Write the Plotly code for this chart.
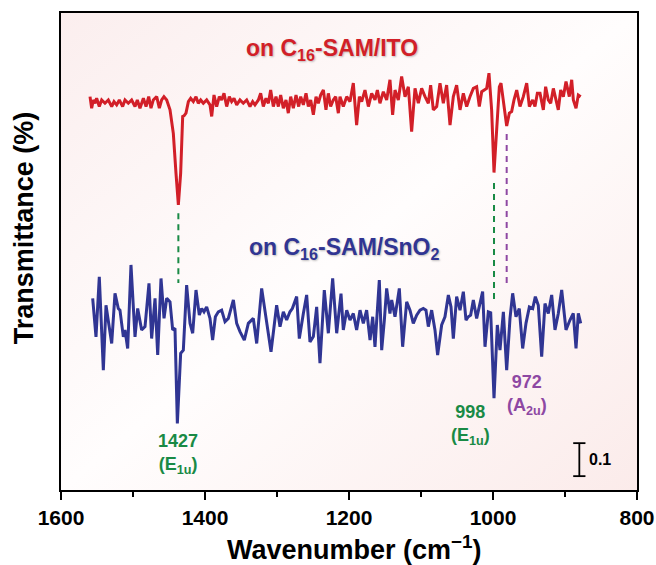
import base64
import plotly.graph_objects as go

# ---------------- data ----------------
# red: on C16-SAM/ITO  (transmittance, relative to its own baseline)
ito_wn = [1559.7, 1557.4, 1555.1, 1552.8, 1550.5, 1546.8, 1543.5, 1538.9, 1534.3, 1529.6,
          1526.4, 1522.7, 1519.0, 1514.4, 1511.1, 1506.5, 1501.9, 1497.2, 1494.0, 1490.3,
          1485.6, 1481.9, 1478.2, 1475.0, 1471.8, 1467.1, 1463.4, 1460.2, 1457.0, 1453.2,
          1448.6, 1444.0, 1440.3, 1437.0, 1433.8, 1431.0, 1429.2, 1426.4, 1423.1, 1419.9,
          1416.2, 1412.5, 1409.3, 1406.0, 1402.3, 1397.7, 1393.1, 1390.7, 1387.5, 1383.8,
          1380.1, 1376.9, 1373.6, 1369.9, 1366.2, 1363.0, 1359.7, 1356.0, 1351.4, 1346.8,
          1342.1, 1337.5, 1333.8, 1330.6, 1325.9, 1322.7, 1319.0, 1315.3, 1312.0, 1308.8,
          1305.1, 1301.4, 1298.1, 1294.9, 1291.2, 1287.5, 1284.3, 1281.0, 1277.3, 1273.6,
          1269.9, 1267.1, 1263.4, 1259.7, 1256.5, 1253.2, 1249.5, 1245.8, 1242.6, 1239.4,
          1235.6, 1232.0, 1228.7, 1225.5, 1221.8, 1218.5, 1214.8, 1212.5, 1207.9, 1203.2,
          1198.6, 1194.0, 1189.4, 1185.6, 1182.4, 1177.8, 1173.1, 1168.5, 1163.9, 1160.6,
          1157.0, 1152.3, 1147.7, 1143.1, 1139.4, 1136.1, 1131.5, 1126.9, 1122.2, 1117.6,
          1113.0, 1108.3, 1103.7, 1099.1, 1094.4, 1089.8, 1086.6, 1082.9, 1078.2, 1073.6,
          1069.0, 1064.4, 1059.7, 1055.1, 1050.5, 1045.8, 1041.2, 1036.6, 1032.0, 1027.3,
          1022.7, 1019.0, 1015.7, 1011.1, 1008.8, 1005.6, 1001.9, 998.6, 994.9, 991.2,
          988.9, 985.6, 981.0, 977.3, 974.1, 970.8, 967.1, 962.5, 957.9, 953.2,
          949.5, 944.9, 941.7, 938.4, 934.7, 930.1, 926.9, 923.2, 919.9, 916.2,
          912.5, 909.3, 906.0, 902.3, 898.6, 894.0, 890.7, 888.4, 884.7, 881.5,
          878.2]
ito_t = [0.015, -0.020, 0.005, -0.005, 0.010, -0.015, 0.005, -0.005, 0.005, -0.015,
         0.000, -0.010, 0.005, -0.015, 0.005, -0.005, 0.005, -0.015, 0.005, -0.020,
         0.010, -0.015, 0.015, -0.020, 0.005, 0.015, -0.020, 0.005, 0.015, 0.005,
         -0.025, -0.096, -0.217, -0.313, -0.217, -0.045, -0.043, -0.035, 0.000, 0.010,
         0.000, 0.015, -0.005, 0.005, -0.005, 0.005, -0.010, -0.045, 0.020, -0.015,
         0.015, 0.005, 0.025, -0.015, 0.015, 0.000, 0.010, -0.010, 0.005, -0.005,
         0.005, -0.015, 0.000, -0.010, 0.005, 0.025, -0.015, 0.010, -0.005, 0.035,
         -0.015, 0.015, -0.015, 0.020, -0.020, 0.005, -0.035, 0.015, -0.020, 0.020,
         -0.015, 0.015, -0.010, 0.025, -0.015, 0.005, -0.040, 0.015, -0.005, 0.020,
         0.035, -0.025, 0.025, -0.015, 0.005, 0.015, -0.035, 0.015, -0.015, 0.015,
         0.000, 0.056, -0.071, 0.015, 0.000, 0.035, -0.015, 0.025, 0.005, 0.035,
         -0.005, 0.030, 0.005, 0.066, -0.040, 0.035, 0.005, 0.076, 0.015, 0.045,
         -0.091, 0.040, -0.005, 0.040, 0.015, -0.005, 0.050, -0.025, -0.015, 0.056,
         -0.005, 0.050, -0.071, 0.015, 0.050, -0.025, 0.025, -0.015, 0.015, 0.040,
         0.045, -0.015, 0.030, 0.035, 0.040, 0.086, -0.025, -0.215, -0.076, 0.045,
         0.056, 0.005, -0.074, -0.035, -0.030, 0.005, 0.035, -0.015, 0.015, 0.056,
         -0.015, 0.005, -0.015, 0.025, 0.025, -0.025, 0.045, 0.005, -0.005, 0.040,
         0.005, -0.025, 0.035, 0.015, 0.061, 0.015, 0.066, 0.005, -0.020, 0.020,
         0.015]

# blue: on C16-SAM/SnO2
sno2_wn = [1556.0, 1551.4, 1546.8, 1541.2, 1537.5, 1529.6, 1525.0, 1520.4, 1518.1, 1513.4,
           1511.1, 1507.4, 1502.8, 1497.2, 1493.5, 1488.0, 1483.3, 1477.8, 1474.1, 1469.4,
           1465.7, 1461.1, 1456.9, 1453.2, 1448.6, 1444.9, 1441.7, 1438.4, 1433.8, 1430.1,
           1425.5, 1420.8, 1417.1, 1412.5, 1407.9, 1404.6, 1401.4, 1397.7, 1393.1, 1389.4,
           1385.6, 1381.5, 1376.9, 1372.2, 1367.6, 1360.6, 1356.0, 1351.4, 1345.4, 1339.8,
           1332.9, 1328.2, 1321.3, 1315.3, 1308.3, 1300.5, 1295.8, 1291.2, 1286.6, 1282.0,
           1278.7, 1272.7, 1269.0, 1263.4, 1258.8, 1254.2, 1249.5, 1244.9, 1240.3, 1234.3,
           1228.7, 1222.7, 1217.1, 1211.1, 1207.9, 1203.2, 1198.6, 1194.0, 1189.4, 1184.7,
           1180.1, 1175.5, 1170.8, 1167.1, 1163.9, 1157.9, 1154.6, 1150.9, 1147.7, 1143.1,
           1140.7, 1136.1, 1130.1, 1125.5, 1119.9, 1115.3, 1110.7, 1106.0, 1101.4, 1096.8,
           1093.1, 1089.8, 1085.2, 1080.6, 1076.9, 1071.3, 1066.7, 1062.0, 1058.3, 1055.1,
           1050.5, 1045.8, 1041.2, 1037.5, 1034.3, 1031.0, 1027.3, 1022.7, 1018.1, 1014.4,
           1011.1, 1006.5, 1003.2, 998.6, 994.0, 990.3, 985.6, 981.0, 976.4, 972.7,
           968.1, 963.5, 958.8, 954.2, 949.5, 944.9, 941.2, 937.1, 932.4, 927.8,
           923.2, 918.5, 913.9, 909.3, 904.6, 898.6, 893.1, 888.5, 884.7, 881.5,
           878.2]
sno2_t = [0.061, -0.056, 0.126, -0.157, 0.040, -0.076, 0.076, 0.030, 0.025, -0.056,
          -0.035, -0.091, 0.162, -0.056, 0.030, -0.035, -0.025, 0.106, -0.061, 0.061,
          -0.111, 0.121, 0.000, 0.061, 0.050, -0.035, -0.030, -0.318, -0.106, -0.096,
          0.101, -0.015, -0.045, 0.086, 0.010, 0.030, 0.020, 0.035, 0.000, -0.066,
          0.005, 0.020, 0.025, -0.010, 0.000, 0.056, -0.015, -0.040, -0.066, -0.015,
          0.000, -0.076, 0.091, 0.005, -0.101, 0.040, -0.025, 0.020, -0.005, 0.020,
          0.030, 0.066, -0.061, 0.015, 0.071, -0.071, -0.055, 0.035, -0.136, 0.086,
          -0.045, 0.121, -0.045, 0.075, -0.035, 0.025, -0.005, 0.015, -0.035, 0.025,
          -0.015, 0.025, -0.066, 0.005, -0.086, 0.116, -0.096, -0.005, 0.091, 0.015,
          0.056, 0.005, 0.091, -0.086, 0.050, 0.025, -0.015, 0.010, 0.025, 0.030,
          0.025, -0.025, 0.025, -0.035, -0.111, -0.020, 0.005, 0.071, 0.035, -0.061,
          0.066, 0.025, 0.081, -0.005, 0.005, 0.010, 0.056, 0.000, 0.040, 0.081,
          -0.086, 0.020, 0.017, -0.242, -0.020, -0.096, 0.020, -0.157, 0.000, 0.076,
          0.005, 0.030, -0.091, -0.015, 0.035, 0.030, 0.066, 0.040, -0.116, 0.045,
          0.015, 0.071, -0.035, 0.015, 0.086, -0.035, -0.005, 0.015, -0.091, 0.015,
          -0.015]

# stacking offsets of the two spectra
ito_offset = 1.177
sno2_offset = 0.520

# band assignments: drawn position, label, mode
peak_pos = [1437.0, 998.6, 981.0]
peak_wn_labels = ["1427", "998", "972"]
peak_modes = ["E<sub>1u</sub>", "E<sub>1u</sub>", "A<sub>2u</sub>"]
scale_bar_value = 0.1

# ---------------- styling ----------------
RED = "#d21f28"
BLUE = "#303593"
GREEN = "#198a45"
PURPLE = "#8e48a3"
FONT = "Liberation Sans, Arial, Helvetica, sans-serif"

fig = go.Figure()
fig.add_trace(go.Scatter(x=ito_wn, y=[v + ito_offset for v in ito_t], mode="lines",
                         line=dict(color=RED, width=3), hoverinfo="skip", showlegend=False))
fig.add_trace(go.Scatter(x=sno2_wn, y=[v + sno2_offset for v in sno2_t], mode="lines",
                         line=dict(color=BLUE, width=3), hoverinfo="skip", showlegend=False))

# dashed assignment lines (between the two spectra)
dash_spans = [(0.839, 0.627), (0.930, 0.579), (1.079, 0.621)]
dash_cols = [GREEN, GREEN, PURPLE]
for xp, (y0, y1), c in zip(peak_pos, dash_spans, dash_cols):
    fig.add_shape(type="line", x0=xp, x1=xp, y0=y0, y1=y1, xref="x", yref="y",
                  line=dict(color=c, width=2, dash="6px,5px"))

# scale bar
sb_x, sb_y0, sb_cap = 880.1, 0.042, 8.5
fig.add_shape(type="line", x0=sb_x, x1=sb_x, y0=sb_y0, y1=sb_y0 + scale_bar_value,
              line=dict(color="black", width=1.8))
for yy in (sb_y0, sb_y0 + scale_bar_value):
    fig.add_shape(type="line", x0=sb_x + sb_cap, x1=sb_x - sb_cap, y0=yy, y1=yy,
                  line=dict(color="black", width=1.8))
fig.add_annotation(x=869.9, y=sb_y0 + scale_bar_value / 2, text="0.1", showarrow=False,
                   xanchor="left", yanchor="middle",
                   font=dict(family=FONT, size=16, color="black", weight="bold"))

shadow = "1px 1px 2px rgba(0,0,0,0.25)"
# spectrum labels
fig.add_annotation(x=1223.6, y=1.335, text="on C<sub>16</sub>-SAM/ITO", showarrow=False,
                   xanchor="center", yanchor="middle",
                   font=dict(family=FONT, size=23, color=RED, weight="bold", shadow=shadow))
fig.add_annotation(x=1207.0, y=0.732, text="on C<sub>16</sub>-SAM/SnO<sub>2</sub>",
                   showarrow=False, xanchor="center", yanchor="middle",
                   font=dict(family=FONT, size=23, color=BLUE, weight="bold", shadow=shadow))

# band labels
label_xy = [(1437.5, 0.110), (1031.9, 0.198), (952.8, 0.288)]
label_cols = [GREEN, GREEN, PURPLE]
for (lx, ly), wl, md, c in zip(label_xy, peak_wn_labels, peak_modes, label_cols):
    fig.add_annotation(x=lx, y=ly, text=f"{wl}<br>({md})", showarrow=False,
                       xanchor="center", yanchor="middle", align="center",
                       font=dict(family=FONT, size=18, color=c, weight="bold"))

# axis titles
fig.add_annotation(xref="paper", yref="paper", x=-0.064, y=0.549, text="Transmittance (%)",
                   textangle=-90, showarrow=False, xanchor="center", yanchor="middle",
                   font=dict(family=FONT, size=27, color="black", weight="bold"))
fig.add_annotation(xref="paper", yref="paper", x=0.51, y=-0.121,
                   text="Wavenumber (cm<sup>\u22121</sup>)", showarrow=False,
                   xanchor="center", yanchor="middle",
                   font=dict(family=FONT, size=27, color="black", weight="bold"))

# gradient background for the plot area
svg = ("<svg xmlns='http://www.w3.org/2000/svg' width='200' height='200' preserveAspectRatio='none'>"
       "<defs><linearGradient id='g' x1='0' y1='0' x2='1' y2='1'>"
       "<stop offset='0' stop-color='#fbeeee'/><stop offset='0.5' stop-color='#fffdfd'/>"
       "<stop offset='1' stop-color='#fbebea'/></linearGradient></defs>"
       "<rect width='200' height='200' fill='url(#g)'/></svg>")
src = "data:image/svg+xml;base64," + base64.b64encode(svg.encode()).decode()
fig.add_layout_image(source=src, xref="paper", yref="paper", x=0, y=1, sizex=1, sizey=1,
                     sizing="stretch", xanchor="left", yanchor="top", layer="below")

fig.update_layout(
    width=656, height=565,
    margin=dict(l=61, r=19, t=13, b=75, autoexpand=False),
    paper_bgcolor="white", plot_bgcolor="rgba(0,0,0,0)",
    font=dict(family=FONT, color="black"),
    showlegend=False,
)
fig.update_xaxes(range=[1600, 800], tickmode="array", tickvals=[1600, 1400, 1200, 1000, 800],
                 ticks="outside", ticklen=8, tickwidth=2, tickcolor="black",
                 minor=dict(tickmode="array", tickvals=[1500, 1300, 1100, 900], ticks="outside",
                            ticklen=5, tickwidth=2, tickcolor="black", showgrid=False),
                 showline=True, linewidth=2, linecolor="black", mirror=True,
                 showgrid=False, zeroline=False, automargin=False,
                 ticklabeloverflow="allow",
                 tickfont=dict(family=FONT, size=21, color="black", weight="bold"))
fig.update_yaxes(range=[0, 1.4455], showticklabels=False, ticks="",
                 showline=True, linewidth=2, linecolor="black", mirror=True,
                 showgrid=False, zeroline=False, automargin=False)

fig.write_html("out.html", config={"displayModeBar": False},
               post_script="document.body.style.margin='0';document.body.style.overflow='hidden';")
